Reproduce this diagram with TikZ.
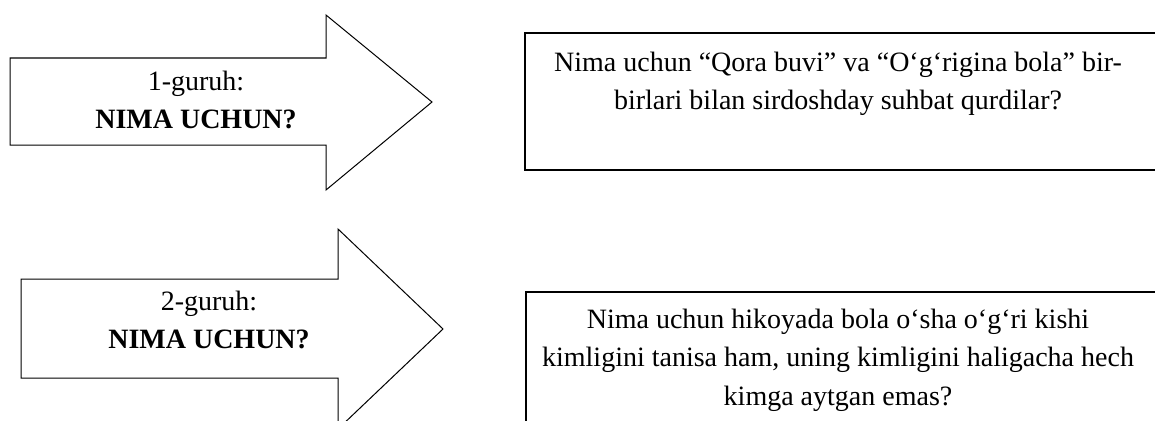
\documentclass[tikz,border=0pt]{standalone}
\usepackage{fontspec}
\setmainfont{Liberation Serif}
\usepackage{tikz}

\tikzset{
  arrowline/.style={color=black, line width=1pt, line join=miter},
  boxline/.style={color=black, line width=1.3pt},
  grouptext/.style={anchor=base, align=center, inner sep=0pt, font=\fontsize{28}{38.5}\selectfont},
  questiontext/.style={anchor=base, align=center, inner sep=0pt, font=\fontsize{28}{38.5}\selectfont}
}

\begin{document}
\begin{tikzpicture}[x=1pt, y=-1pt]
\useasboundingbox (0, 0) rectangle (1155, 420);
\clip (0, 0) rectangle (1155, 420);

% arrows
\draw[arrowline](10, 58) -- (326, 58) -- (326, 15) -- (432, 102) -- (326, 190) -- (326, 145) -- (10, 145) -- cycle;
\draw[arrowline](21, 279) -- (338, 279) -- (338, 229) -- (443, 329) -- (338, 429) -- (338, 378) -- (21, 378) -- cycle;

% boxes, cut at the page edge
\draw[boxline](1170, 33) -- (525, 33) -- (525, 170) -- (1170, 170);
\draw[boxline](1170, 292) -- (526, 292) -- (526, 440);

% base = baseline of the last line
\node[grouptext] (guruh1) at (196, 128.5) {1-guruh:\\\textbf{NIMA UCHUN?}};
\node[grouptext] (guruh2) at (209, 348.5) {2-guruh:\\\textbf{NIMA UCHUN?}};

\node[questiontext] (savol1) at (838, 109.5) {Nima uchun “Qora buvi” va “O‘g‘rigina bola” bir-\\birlari bilan sirdoshday suhbat qurdilar?};
\node[questiontext] (savol2) at (838, 405) {Nima uchun hikoyada bola o‘sha o‘g‘ri kishi\\kimligini tanisa ham, uning kimligini haligacha hech\\kimga aytgan emas?};

\end{tikzpicture}
\end{document}
